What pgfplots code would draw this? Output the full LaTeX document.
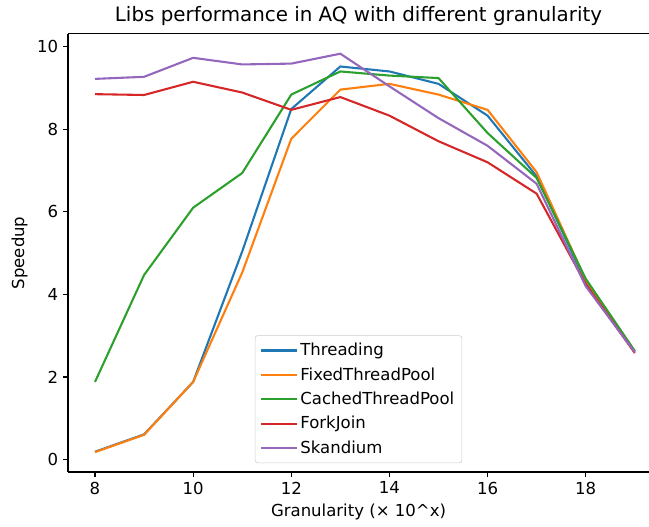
\documentclass[border=0pt]{standalone}
\usepackage{fontspec}
\setmainfont{DejaVu Sans}
\usepackage{pgfplots}
\pgfplotsset{compat=1.18}

\definecolor{tabblue}{HTML}{1F77B4}
\definecolor{taborange}{HTML}{FF7F0E}
\definecolor{tabgreen}{HTML}{2CA02C}
\definecolor{tabred}{HTML}{D62728}
\definecolor{tabpurple}{HTML}{9467BD}

\begin{document}
\begin{tikzpicture}
\begin{axis}[
  scale only axis,
  width=418.3pt, height=315.4pt,
  xmin=7.45, xmax=19.29,
  ymin=-0.30, ymax=10.31,
  axis y line*=left,
  xtick={8,10,12,14,16,18},
  ytick={0,2,4,6,8,10},
  xtick pos=left, ytick pos=left,
  tick align=outside,
  major tick length=3.5pt,
  tick style={black, line width=0.8pt},
  axis line style={line width=0.8pt},
  /pgf/number format/assume math mode=true,
  ticklabel style={font=\fontsize{11.9}{14}\selectfont},
  title={Libs performance in AQ with different granularity},
  title style={font=\fontsize{14.3}{17}\selectfont, yshift=-3.5pt},
  xlabel={Granularity (× 10\textasciicircum x)},
  ylabel={Speedup},
  label style={font=\fontsize{11.9}{14}\selectfont},
  legend style={at={(0.5,0.02)}, anchor=south, draw=black!20, rounded corners=2pt,
    font=\fontsize{11.9}{14}\selectfont, row sep=3pt, inner sep=3.5pt},
  legend cell align=left,
  legend image code/.code={\draw[#1] (0cm,0cm) -- (0.9cm,0cm);},
]
\addplot[tabblue, line width=1.5pt] coordinates {(8,0.19) (9,0.61) (10,1.88) (11,5.04) (12,8.49) (13,9.52) (14,9.40) (15,9.10) (16,8.33) (17,6.86) (18,4.30) (19,2.62)};
\addlegendentry{Threading}
\addplot[taborange, line width=1.5pt] coordinates {(8,0.18) (9,0.60) (10,1.88) (11,4.53) (12,7.77) (13,8.96) (14,9.10) (15,8.84) (16,8.47) (17,6.96) (18,4.35) (19,2.62)};
\addlegendentry{FixedThreadPool}
\addplot[tabgreen, line width=1.5pt] coordinates {(8,1.88) (9,4.47) (10,6.10) (11,6.94) (12,8.84) (13,9.40) (14,9.30) (15,9.24) (16,7.91) (17,6.82) (18,4.38) (19,2.63)};
\addlegendentry{CachedThreadPool}
\addplot[tabred, line width=1.5pt] coordinates {(8,8.85) (9,8.83) (10,9.15) (11,8.89) (12,8.47) (13,8.78) (14,8.33) (15,7.71) (16,7.20) (17,6.44) (18,4.25) (19,2.58)};
\addlegendentry{ForkJoin}
\addplot[tabpurple, line width=1.5pt] coordinates {(8,9.22) (9,9.27) (10,9.73) (11,9.57) (12,9.59) (13,9.83) (14,9.04) (15,8.27) (16,7.60) (17,6.68) (18,4.20) (19,2.60)};
\addlegendentry{Skandium}
\end{axis}
\pgfresetboundingbox
\path (-48.96pt,-39.6pt) rectangle (418.3pt,339.8pt);
\end{tikzpicture}
\end{document}
